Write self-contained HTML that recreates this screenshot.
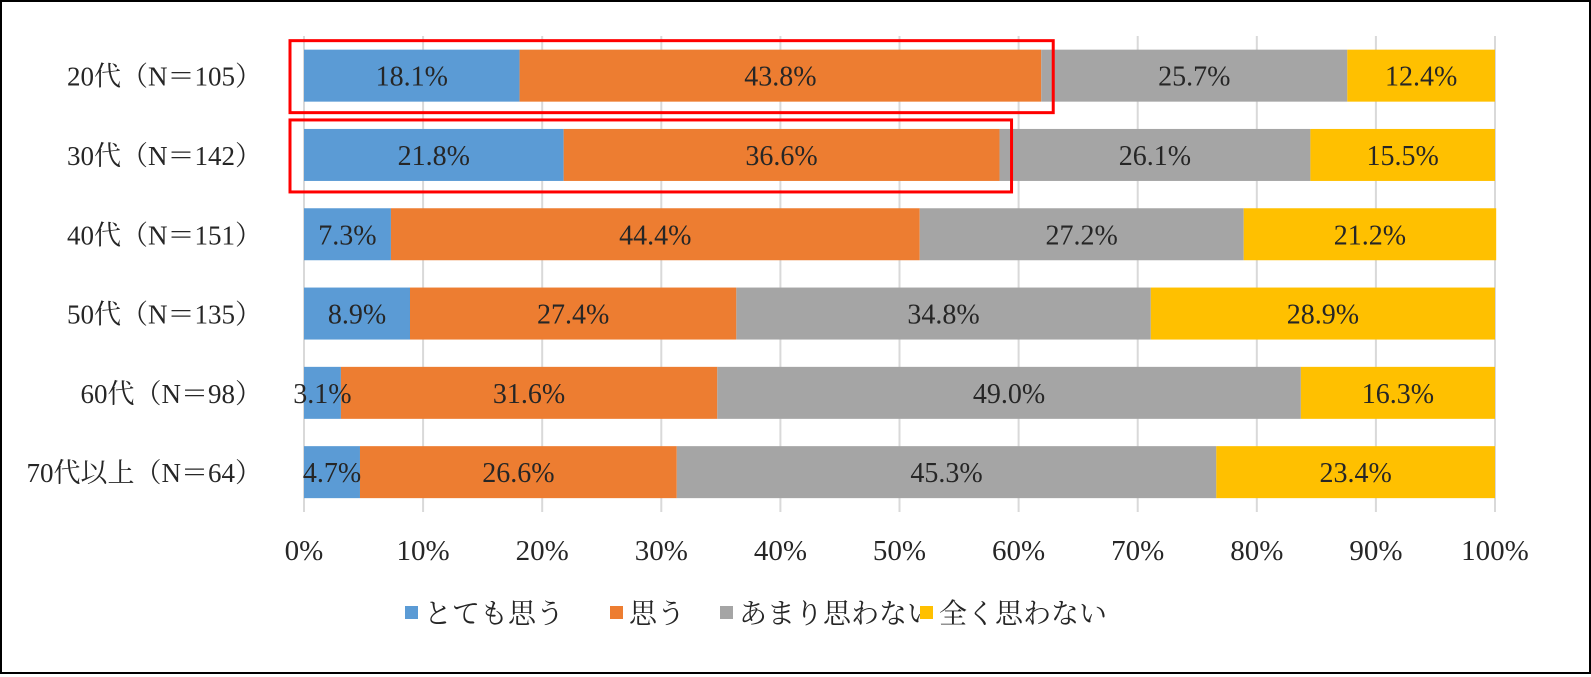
<!DOCTYPE html>
<html><head><meta charset="utf-8"><style>
body{margin:0;background:#fff;}
#wrap{position:relative;width:1591px;height:674px;box-sizing:border-box;border:2px solid #000;background:#fff;font-family:"Liberation Serif","Noto Serif CJK JP",serif;}
svg text{font-family:"Liberation Serif","Noto Serif CJK JP",serif;}
</style></head><body>
<div id="wrap">
<svg id="chart" width="1587" height="670"></svg>
</div>
<script>
const categories=["20代（N＝105）","30代（N＝142）","40代（N＝151）","50代（N＝135）","60代（N＝98）","70代以上（N＝64）"];
const seriesNames=["とても思う","思う","あまり思わない","全く思わない"];
const s1=[18.1,21.8,7.3,8.9,3.1,4.7];
const s2=[43.8,36.6,44.4,27.4,31.6,26.6];
const s3=[25.7,26.1,27.2,34.8,49.0,45.3];
const s4=[12.4,15.5,21.2,28.9,16.3,23.4];
const ticks=[0,10,20,30,40,50,60,70,80,90,100];
const highlighted=[0,1];
const colors=["#5b9bd5","#ed7d31","#a5a5a5","#ffc000"];
const NS="http://www.w3.org/2000/svg";
const svg=document.getElementById('chart');
const ox=-2,oy=-2;
const x0=304,x1=1495,top0=36,rowH=79.3,barH=52;
const xs=v=>x0+(x1-x0)*v/100+ox;
const yc=i=>top0+rowH*(i+0.5)+oy;
function mk(t,a){const e=document.createElementNS(NS,t);for(const k in a)e.setAttribute(k,a[k]);svg.appendChild(e);return e;}
ticks.forEach(t=>{
 const g=mk('line',{x1:xs(t),x2:xs(t),y1:36+oy,y2:512+oy,stroke:'#d9d9d9','stroke-width':2});
 
 
 const l=mk('text',{x:xs(t),y:560+oy,'text-anchor':'middle','font-size':29,fill:'#262626'});
 l.textContent=t+'%';
 
 
});
const series=[s1,s2,s3,s4];
categories.forEach((c,i)=>{
 const lab=mk('text',{x:262+ox,y:yc(i)+10,'text-anchor':'end','font-size':27,fill:'#262626'});
 lab.textContent=c;
 
 
 let acc=0;
 series.forEach((s,j)=>{
  const v=s[i];
  const r=mk('rect',{x:xs(acc),y:yc(i)-barH/2,width:xs(acc+v)-xs(acc),height:barH,fill:colors[j]});
  
  
  acc+=v;
 });
 acc=0;
 series.forEach((s,j)=>{
  const v=s[i];
  const t=mk('text',{x:(xs(acc)+xs(acc+v))/2,y:yc(i)+10,'text-anchor':'middle','font-size':28,fill:'#262626'});
  t.textContent=v.toFixed(1)+'%';
  
  
  acc+=v;
 });
});
highlighted.forEach(i=>{
 const end=s1[i]+s2[i];
 const b=mk('rect',{x:290+ox,y:yc(i)-35,width:xs(end)+12-(290+ox),height:72,fill:'none',stroke:'#ff0000','stroke-width':3});
 
 
});
const lx=[405,610,720,920];
seriesNames.forEach((n,j)=>{
 const sq=mk('rect',{x:lx[j]+ox,y:606+oy,width:13,height:13,fill:colors[j]});
 
 
 const t=mk('text',{x:lx[j]+19+ox,y:623+oy,'font-size':28,fill:'#262626'});
 t.textContent=n;
 
 
});
</script>
</body></html>
